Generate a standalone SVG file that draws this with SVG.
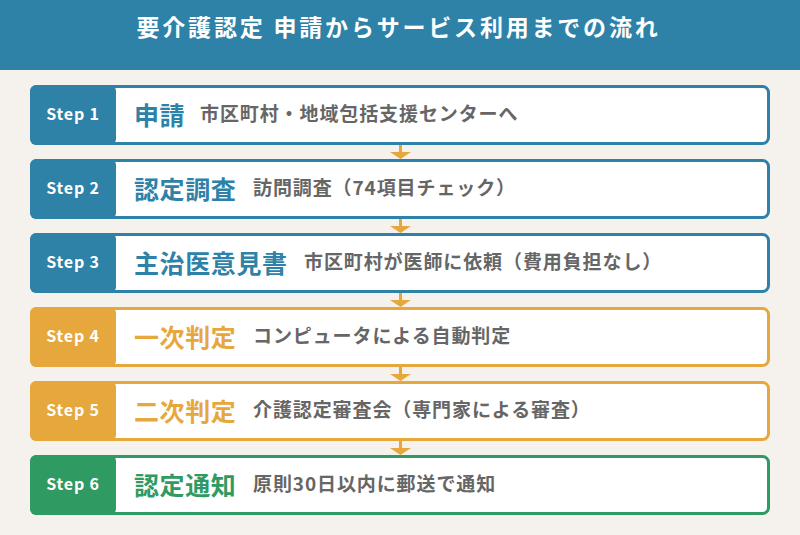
<svg xmlns="http://www.w3.org/2000/svg" width="800" height="535" viewBox="0 0 800 535">
<style>
.bg{fill:#f5f2ee}
.hdr{fill:#2e82a8}
.htxt{font-family:"Noto Sans CJK JP",sans-serif;font-size:23px;font-weight:bold;fill:#fff;letter-spacing:2.8px}
.card{fill:#fff;stroke-width:3}
.lbl{font-family:"Noto Sans CJK JP",sans-serif;font-size:16px;font-weight:bold;fill:#fff;text-anchor:middle;letter-spacing:0.8px}
.ttl{font-family:"Noto Sans CJK JP",sans-serif;font-size:25px;font-weight:bold;letter-spacing:0.6px}
.dsc{font-family:"Noto Sans CJK JP",sans-serif;font-size:19px;font-weight:bold;fill:#666;letter-spacing:0.9px}
.blue .card{stroke:#2e82a8}.blue .box{fill:#2e82a8}.blue .ttl{fill:#2e82a8}
.orange .card{stroke:#e6a73d}.orange .box{fill:#e6a73d}.orange .ttl{fill:#e6a73d}
.green .card{stroke:#2f9a62}.green .box{fill:#2f9a62}.green .ttl{fill:#2f9a62}
.arr{fill:#e6a73d}
</style>
<rect class="bg" x="0" y="0" width="800" height="535"/>
<g id="header">
<rect class="hdr" x="0" y="0" width="800" height="70"/>
<text class="htxt" x="398.5" y="36" text-anchor="middle">要介護認定 申請からサービス利用までの流れ</text>
</g>
<g id="connectors">
<path class="arr" d="M399 145h3v7h9l-10.5 7l-10.5-7h9z"/>
<path class="arr" d="M399 219h3v7h9l-10.5 7l-10.5-7h9z"/>
<path class="arr" d="M399 293h3v7h9l-10.5 7l-10.5-7h9z"/>
<path class="arr" d="M399 367h3v7h9l-10.5 7l-10.5-7h9z"/>
<path class="arr" d="M399 441h3v7h9l-10.5 7l-10.5-7h9z"/>
</g>
<g id="step1" class="blue">
<rect class="card" x="31.5" y="86.5" width="737" height="57" rx="6"/>
<rect class="box" x="30" y="85" width="86" height="60" rx="6"/>
<text class="lbl" x="73" y="120">Step 1</text>
<text class="ttl" x="134" y="125">申請</text>
<text class="dsc" x="200" y="121">市区町村・地域包括支援センターへ</text>
</g>
<g id="step2" class="blue">
<rect class="card" x="31.5" y="160.5" width="737" height="57" rx="6"/>
<rect class="box" x="30" y="159" width="86" height="60" rx="6"/>
<text class="lbl" x="73" y="194">Step 2</text>
<text class="ttl" x="134" y="199">認定調査</text>
<text class="dsc" x="253" y="195">訪問調査（74項目チェック）</text>
</g>
<g id="step3" class="blue">
<rect class="card" x="31.5" y="234.5" width="737" height="57" rx="6"/>
<rect class="box" x="30" y="233" width="86" height="60" rx="6"/>
<text class="lbl" x="73" y="268">Step 3</text>
<text class="ttl" x="134" y="273">主治医意見書</text>
<text class="dsc" x="304" y="269">市区町村が医師に依頼（費用負担なし）</text>
</g>
<g id="step4" class="orange">
<rect class="card" x="31.5" y="308.5" width="737" height="57" rx="6"/>
<rect class="box" x="30" y="307" width="86" height="60" rx="6"/>
<text class="lbl" x="73" y="342">Step 4</text>
<text class="ttl" x="134" y="347">一次判定</text>
<text class="dsc" x="253" y="343">コンピュータによる自動判定</text>
</g>
<g id="step5" class="orange">
<rect class="card" x="31.5" y="382.5" width="737" height="57" rx="6"/>
<rect class="box" x="30" y="381" width="86" height="60" rx="6"/>
<text class="lbl" x="73" y="416">Step 5</text>
<text class="ttl" x="134" y="421">二次判定</text>
<text class="dsc" x="253" y="417">介護認定審査会（専門家による審査）</text>
</g>
<g id="step6" class="green">
<rect class="card" x="31.5" y="456.5" width="737" height="57" rx="6"/>
<rect class="box" x="30" y="455" width="86" height="60" rx="6"/>
<text class="lbl" x="73" y="490">Step 6</text>
<text class="ttl" x="134" y="495">認定通知</text>
<text class="dsc" x="253" y="491">原則30日以内に郵送で通知</text>
</g>
</svg>
